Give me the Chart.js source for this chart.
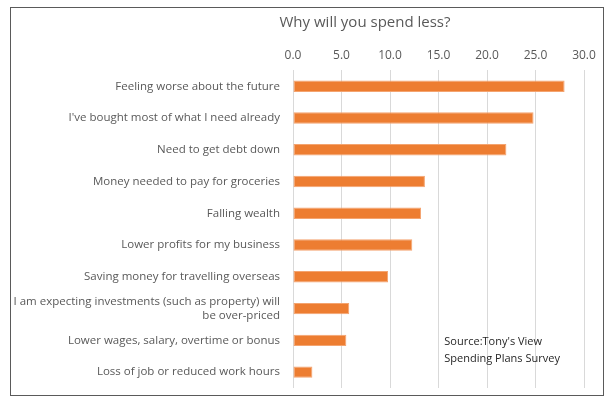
<!DOCTYPE html>
<html>
<head>
<meta charset="utf-8">
<script src="https://cdn.jsdelivr.net/npm/chart.js@4"></script>
<style>
  body { margin: 0; background: #fff; }
  #wrap { position: relative; width: 615px; height: 404px; }
  #frame { position: absolute; left: 10px; top: 7px; width: 594px; height: 389px; border: 1.5px solid #5a5a5a; box-sizing: border-box; pointer-events: none; }
  canvas { position: absolute; left: 0; top: 0; }
</style>
</head>
<body>
<div id="wrap">
  <canvas id="chart" width="615" height="404"></canvas>
  <div id="frame"></div>
</div>
<script>
// reasons, top to bottom
const reasons = [
  'Feeling worse about the future',
  "I've bought most of what I need already",
  'Need to get debt down',
  'Money needed to pay for groceries',
  'Falling wealth',
  'Lower profits for my business',
  'Saving money for travelling overseas',
  ['I am expecting investments (such as property) will', 'be over-priced'],
  'Lower wages, salary, overtime or bonus',
  'Loss of job or reduced work hours'
];
const shares = [28.0, 24.8, 22.0, 13.6, 13.2, 12.3, 9.8, 5.8, 5.5, 2.0];
const xTicks = [0, 5, 10, 15, 20, 25, 30];

const chartTitle = 'Why will you spend less?';
const sourceLines = ["Source:Tony's View", 'Spending Plans Survey'];

const labelFont = "'Open Sans', sans-serif";
const grey = '#595959';

// title and source note drawn by hand
const notes = {
  id: 'notes',
  afterDraw(chart) {
    const ctx = chart.ctx;
    const area = chart.chartArea;
    ctx.save();
    ctx.fillStyle = grey;
    ctx.font = "15px " + labelFont;
    ctx.textAlign = 'center';
    ctx.textBaseline = 'middle';
    ctx.fillText(chartTitle, area.left + 72, 23);

    ctx.fillStyle = '#262626';
    ctx.font = "11px " + labelFont;
    ctx.textAlign = 'left';
    const x = chart.scales.x.getPixelForValue(15.6);
    const y = chart.scales.y.getPixelForValue(8.05);
    sourceLines.forEach((line, i) => ctx.fillText(line, x, y + i * 17));
    ctx.restore();
  }
};

new Chart(document.getElementById('chart'), {
  type: 'bar',
  data: {
    labels: reasons,
    datasets: [{
      data: shares,
      backgroundColor: '#ED7D31',
      borderColor: '#F4A470',
      borderWidth: 1,
      borderSkipped: false,
      categoryPercentage: 1,
      barPercentage: 0.36
    }]
  },
  options: {
    indexAxis: 'y',
    responsive: false,
    animation: false,
    layout: { padding: { left: 10, right: 31, top: 40, bottom: 16 } },
    plugins: { legend: { display: false }, tooltip: { enabled: false } },
    scales: {
      x: {
        position: 'top',
        min: 0,
        max: 30,
        afterBuildTicks: (scale) => { scale.ticks = xTicks.map(v => ({ value: v })); },
        ticks: {
          color: grey,
          font: { family: labelFont, size: 12 },
          padding: 8,
          callback: (v) => Number(v).toFixed(1)
        },
        grid: { color: '#d9d9d9', drawTicks: false },
        border: { display: false }
      },
      y: {
        afterFit: (scale) => {
          scale.width = 283;
          // label padding would otherwise shrink the plot at top and bottom
          scale.paddingTop = 0;
          scale.paddingBottom = 0;
        },
        ticks: {
          color: grey,
          font: { family: labelFont, size: 11.5 },
          padding: 13
        },
        grid: { display: false, drawTicks: false },
        border: { display: false }
      }
    }
  },
  plugins: [notes]
});
</script>
</body>
</html>
